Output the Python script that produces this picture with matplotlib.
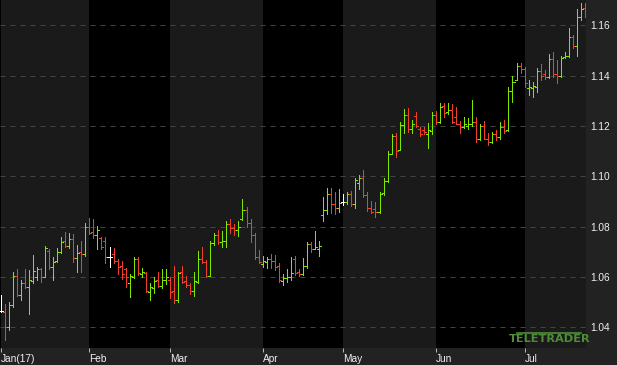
import numpy as np
import pandas as pd
import matplotlib
matplotlib.use('Agg')
import matplotlib.pyplot as plt
from matplotlib.collections import LineCollection

# EUR/USD daily bars, Jan 2 - Jul 24 2017
dates = pd.bdate_range('2017-01-02', periods=146)

opens = [1.0465, 1.0460, 1.0400, 1.0490, 1.0605, 1.0530, 1.0575, 1.0560, 1.0585, 1.0600,
         1.0630, 1.0600, 1.0705, 1.0640, 1.0662, 1.0700, 1.0745, 1.0725, 1.0750, 1.0675,
         1.0700, 1.0690, 1.0797, 1.0780, 1.0765, 1.0755, 1.0745, 1.0680, 1.0690, 1.0665,
         1.0645, 1.0630, 1.0575, 1.0600, 1.0670, 1.0612, 1.0615, 1.0540, 1.0555, 1.0590,
         1.0565, 1.0590, 1.0590, 1.0545, 1.0510, 1.0620, 1.0585, 1.0570, 1.0545, 1.0580,
         1.0670, 1.0660, 1.0605, 1.0735, 1.0765, 1.0740, 1.0745, 1.0810, 1.0795, 1.0785,
         1.0830, 1.0865, 1.0815, 1.0765, 1.0680, 1.0650, 1.0660, 1.0670, 1.0665, 1.0645,
         1.0585, 1.0595, 1.0600, 1.0670, 1.0620, 1.0612, 1.0645, 1.0730, 1.0712, 1.0712,
         1.0845, 1.0865, 1.0930, 1.0890, 1.0875, 1.0900, 1.0900, 1.0930, 1.0890, 1.0975,
         1.0995, 1.0925, 1.0875, 1.0870, 1.0860, 1.0932, 1.0980, 1.1090, 1.1160, 1.1105,
         1.1205, 1.1245, 1.1190, 1.1240, 1.1190, 1.1185, 1.1170, 1.1180, 1.1245, 1.1215,
         1.1280, 1.1255, 1.1265, 1.1235, 1.1210, 1.1197, 1.1200, 1.1210, 1.1215, 1.1150,
         1.1200, 1.1150, 1.1137, 1.1170, 1.1155, 1.1195, 1.1185, 1.1340, 1.1385, 1.1440,
         1.1425, 1.1350, 1.1352, 1.1355, 1.1420, 1.1405, 1.1395, 1.1465, 1.1405, 1.1400,
         1.1475, 1.1478, 1.1555, 1.1518, 1.1635, 1.1670]
highs = [1.0530, 1.0493, 1.0500, 1.0620, 1.0632, 1.0588, 1.0632, 1.0628, 1.0688, 1.0641,
         1.0636, 1.0723, 1.0711, 1.0680, 1.0715, 1.0760, 1.0778, 1.0775, 1.0770, 1.0727,
         1.0742, 1.0815, 1.0833, 1.0830, 1.0803, 1.0759, 1.0759, 1.0719, 1.0715, 1.0671,
         1.0664, 1.0636, 1.0612, 1.0680, 1.0680, 1.0636, 1.0620, 1.0576, 1.0600, 1.0620,
         1.0632, 1.0632, 1.0600, 1.0644, 1.0620, 1.0644, 1.0604, 1.0576, 1.0620, 1.0703,
         1.0719, 1.0667, 1.0743, 1.0775, 1.0787, 1.0783, 1.0822, 1.0830, 1.0811, 1.0822,
         1.0910, 1.0878, 1.0830, 1.0775, 1.0707, 1.0683, 1.0679, 1.0691, 1.0687, 1.0656,
         1.0612, 1.0632, 1.0679, 1.0683, 1.0632, 1.0675, 1.0739, 1.0739, 1.0783, 1.0743,
         1.0918, 1.0954, 1.0954, 1.0938, 1.0950, 1.0930, 1.0938, 1.0942, 1.0994, 1.1005,
         1.1025, 1.0938, 1.0902, 1.0898, 1.0938, 1.0993, 1.1101, 1.1168, 1.1172, 1.1216,
         1.1268, 1.1272, 1.1224, 1.1256, 1.1196, 1.1196, 1.1212, 1.1256, 1.1260, 1.1292,
         1.1292, 1.1292, 1.1288, 1.1276, 1.1220, 1.1236, 1.1232, 1.1303, 1.1236, 1.1208,
         1.1220, 1.1172, 1.1176, 1.1184, 1.1216, 1.1224, 1.1355, 1.1399, 1.1451, 1.1451,
         1.1435, 1.1383, 1.1375, 1.1431, 1.1447, 1.1423, 1.1487, 1.1495, 1.1463, 1.1479,
         1.1495, 1.1588, 1.1560, 1.1664, 1.1688, 1.1688]
lows = [1.0460, 1.0350, 1.0390, 1.0480, 1.0525, 1.0510, 1.0556, 1.0453, 1.0577, 1.0588,
        1.0580, 1.0600, 1.0632, 1.0588, 1.0660, 1.0695, 1.0720, 1.0715, 1.0660, 1.0620,
        1.0620, 1.0683, 1.0770, 1.0757, 1.0711, 1.0711, 1.0655, 1.0640, 1.0655, 1.0612,
        1.0592, 1.0560, 1.0520, 1.0596, 1.0608, 1.0600, 1.0540, 1.0509, 1.0536, 1.0560,
        1.0556, 1.0572, 1.0517, 1.0497, 1.0501, 1.0576, 1.0560, 1.0532, 1.0524, 1.0576,
        1.0655, 1.0600, 1.0604, 1.0727, 1.0731, 1.0719, 1.0719, 1.0775, 1.0767, 1.0763,
        1.0826, 1.0798, 1.0739, 1.0671, 1.0655, 1.0640, 1.0636, 1.0636, 1.0628, 1.0580,
        1.0568, 1.0580, 1.0588, 1.0608, 1.0604, 1.0608, 1.0636, 1.0699, 1.0711, 1.0683,
        1.0822, 1.0851, 1.0855, 1.0851, 1.0858, 1.0886, 1.0890, 1.0882, 1.0874, 1.0950,
        1.0918, 1.0862, 1.0855, 1.0839, 1.0855, 1.0926, 1.0978, 1.1089, 1.1077, 1.1105,
        1.1172, 1.1176, 1.1172, 1.1196, 1.1160, 1.1168, 1.1113, 1.1168, 1.1208, 1.1212,
        1.1236, 1.1248, 1.1212, 1.1208, 1.1172, 1.1192, 1.1188, 1.1200, 1.1137, 1.1145,
        1.1148, 1.1125, 1.1133, 1.1145, 1.1148, 1.1172, 1.1180, 1.1296, 1.1383, 1.1411,
        1.1355, 1.1324, 1.1316, 1.1336, 1.1383, 1.1387, 1.1391, 1.1395, 1.1371, 1.1395,
        1.1470, 1.1475, 1.1512, 1.1479, 1.1620, 1.1632]
closes = [1.0465, 1.0400, 1.0490, 1.0605, 1.0530, 1.0575, 1.0560, 1.0590, 1.0625, 1.0630,
          1.0600, 1.0715, 1.0640, 1.0660, 1.0700, 1.0740, 1.0725, 1.0750, 1.0675, 1.0695,
          1.0690, 1.0797, 1.0775, 1.0765, 1.0785, 1.0720, 1.0680, 1.0680, 1.0665, 1.0640,
          1.0610, 1.0600, 1.0605, 1.0670, 1.0615, 1.0620, 1.0545, 1.0560, 1.0585, 1.0565,
          1.0590, 1.0600, 1.0540, 1.0510, 1.0615, 1.0580, 1.0570, 1.0545, 1.0585, 1.0670,
          1.0660, 1.0605, 1.0735, 1.0765, 1.0740, 1.0745, 1.0810, 1.0795, 1.0785, 1.0800,
          1.0865, 1.0815, 1.0765, 1.0680, 1.0660, 1.0665, 1.0670, 1.0665, 1.0640, 1.0590,
          1.0595, 1.0600, 1.0615, 1.0615, 1.0610, 1.0645, 1.0730, 1.0710, 1.0720, 1.0725,
          1.0865, 1.0930, 1.0890, 1.0875, 1.0895, 1.0900, 1.0930, 1.0890, 1.0985, 1.0995,
          1.0925, 1.0875, 1.0860, 1.0860, 1.0930, 1.0980, 1.1090, 1.1160, 1.1100, 1.1205,
          1.1245, 1.1190, 1.1210, 1.1200, 1.1170, 1.1175, 1.1185, 1.1245, 1.1215, 1.1275,
          1.1250, 1.1265, 1.1215, 1.1210, 1.1195, 1.1210, 1.1210, 1.1215, 1.1150, 1.1200,
          1.1150, 1.1135, 1.1170, 1.1155, 1.1195, 1.1180, 1.1340, 1.1375, 1.1440, 1.1425,
          1.1370, 1.1355, 1.1360, 1.1420, 1.1400, 1.1395, 1.1465, 1.1405, 1.1400, 1.1470,
          1.1480, 1.1555, 1.1518, 1.1635, 1.1665, 1.1642]

yticks = [1.04, 1.06, 1.08, 1.10, 1.12, 1.14, 1.16]
month_labels = ['Jan(17)', 'Feb', 'Mar', 'Apr', 'May', 'Jun', 'Jul']

UP = '#80e800'
DOWN = '#f0402c'
FLAT = '#ffffff'
BAND = '#1a1a1a'
PANEL = '#222222'

W, H = 617, 365
fig = plt.figure(figsize=(W / 100, H / 100), dpi=100, facecolor=PANEL)
ax = fig.add_axes([0, 17.3 / H, 586 / W, 347.7 / H])
ax.set_facecolor('black')

n = len(dates)
x = np.arange(n)
o = np.array(opens); h = np.array(highs); l = np.array(lows); c = np.array(closes)

# month bands
months = dates.to_period('M')
starts = [0] + [i for i in range(1, n) if months[i] != months[i - 1]]
edges = starts + [n + 5]
for k in range(len(starts)):
    if k % 2 == 0:
        ax.axvspan(edges[k], edges[k + 1], color=BAND, lw=0, zorder=0)

for yv in yticks:
    ax.axhline(yv, color='#444444', lw=0.72, ls=(0, (5, 5)), zorder=1)

cols = [UP if c[i] > o[i] else DOWN if c[i] < o[i] else FLAT for i in range(n)]
tw = 0.5
segs, scol = [], []
for i in range(n):
    segs.append([(x[i], l[i]), (x[i], h[i])])
    segs.append([(x[i] - tw, o[i]), (x[i], o[i])])
    segs.append([(x[i], c[i]), (x[i] + tw, c[i])])
    scol += [cols[i]] * 3
lc = LineCollection(segs, colors=scol, linewidths=0.72, antialiased=False, zorder=3)
ax.add_collection(lc)

ax.set_xlim(-0.174, 145.24)
ax.set_ylim(1.0319, 1.1701)

ax.yaxis.tick_right()
ax.set_yticks(yticks)
ax.set_yticklabels(['%.2f' % v for v in yticks])
ax.tick_params(axis='y', length=0, pad=3, labelsize=7.3, labelcolor='#f0f0f0')

ax.set_xticks(starts)
ax.set_xticklabels(month_labels, ha='left')
ax.tick_params(axis='x', length=3, width=0.7, color='#bbbbbb', pad=1.5,
               labelsize=7.3, labelcolor='#f0f0f0')
for lab in ax.get_xticklabels() + ax.get_yticklabels():
    lab.set_family(['Liberation Sans', 'DejaVu Sans'])

for s in ax.spines.values():
    s.set_visible(False)

# TeleTrader logo
fig.text(549.5 / W, 1 - 338.5 / H, 'TELETRADER', color='#4e8c36', fontsize=8.2,
         fontweight='bold', family=['Liberation Sans Narrow', 'DejaVu Sans'],
         ha='center', va='center')
fig.add_artist(plt.Line2D([517 / W, 581 / W], [1 - 332.5 / H, 1 - 332.5 / H],
                          color='#4e8c36', lw=1.2))

fig.savefig('out.png', dpi=100, facecolor=PANEL)
